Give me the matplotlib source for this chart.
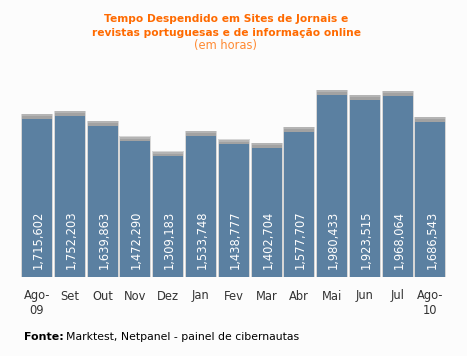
import matplotlib.pyplot as plt
import numpy as np

# Data
months = ['Ago-\n09', 'Set', 'Out', 'Nov', 'Dez', 'Jan', 'Fev', 'Mar', 'Abr',
          'Mai', 'Jun', 'Jul', 'Ago-\n10']
hours = [1715602, 1752203, 1639863, 1472290, 1309183, 1533748, 1438777,
         1402704, 1577707, 1980433, 1923515, 1968064, 1686543]
value_labels = ['1,715,602', '1,752,203', '1,639,863', '1,472,290', '1,309,183',
                '1,533,748', '1,438,777', '1,402,704', '1,577,707', '1,980,433',
                '1,923,515', '1,968,064', '1,686,543']

bg = '#fcfcfc'
bar_color = '#5b80a1'

fig = plt.figure(figsize=(4.67, 3.56), dpi=100, facecolor=bg)

# axes placed so bars land where they are in the reference
pitch = 32.79
ax = fig.add_axes([15 / 467, (356 - 277) / 356, 437 / 467, 217 / 356])
ax.set_facecolor(bg)
ax.set_xlim(-22 / pitch, (452 - 37) / pitch)
px = 9.21e-5  # pixels per unit value
ax.set_ylim(0, 217 / px)

x = np.arange(len(months))
w = 0.915
h = np.array(hours)

# soft grey shadow around / above each bar
ax.bar(x, h + 5 / px, width=w + 2 / pitch, color='#d6d6d6', zorder=1)
ax.bar(x, 5 / px, bottom=h - 0.5 / px, width=w, color='#b4b4b4', zorder=2)
ax.bar(x, 2.5 / px, bottom=h, width=w, color='#a2a2a2', zorder=2)
ax.bar(x, h, width=w, color=bar_color, zorder=3)

for xi, lab in zip(x, value_labels):
    ax.annotate(lab, (xi, 0), xytext=(1, 6), textcoords='offset points',
                rotation=90, ha='center', va='bottom', color='white',
                fontsize=8.3, zorder=4)

ax.set_xticks(x)
ax.set_xticklabels(months, fontsize=8.3, color='#333333', linespacing=1.15)
ax.tick_params(axis='x', length=0, pad=9)
ax.set_yticks([])
for s in ax.spines.values():
    s.set_visible(False)

# title
fig.text(226 / 467, 1 - 19 / 356, 'Tempo Despendido em Sites de Jornais e',
         ha='center', va='center', color='#ff6a00', fontsize=7.7, fontweight='bold')
fig.text(226 / 467, 1 - 33 / 356, 'revistas portuguesas e de informação online',
         ha='center', va='center', color='#ff6a00', fontsize=7.7, fontweight='bold')
fig.text(226 / 467, 1 - 45 / 356, '(em horas)',
         ha='center', va='center', color='#ff8a33', fontsize=8.3)

# source
fig.text(24 / 467, 1 - 337 / 356, 'Fonte:', ha='left', va='center',
         color='black', fontsize=7.9, fontweight='bold')
fig.text(66.5 / 467, 1 - 337 / 356, 'Marktest, Netpanel - painel de cibernautas',
         ha='left', va='center', color='black', fontsize=7.8)

fig.savefig('out.png', dpi=100, facecolor=bg)
